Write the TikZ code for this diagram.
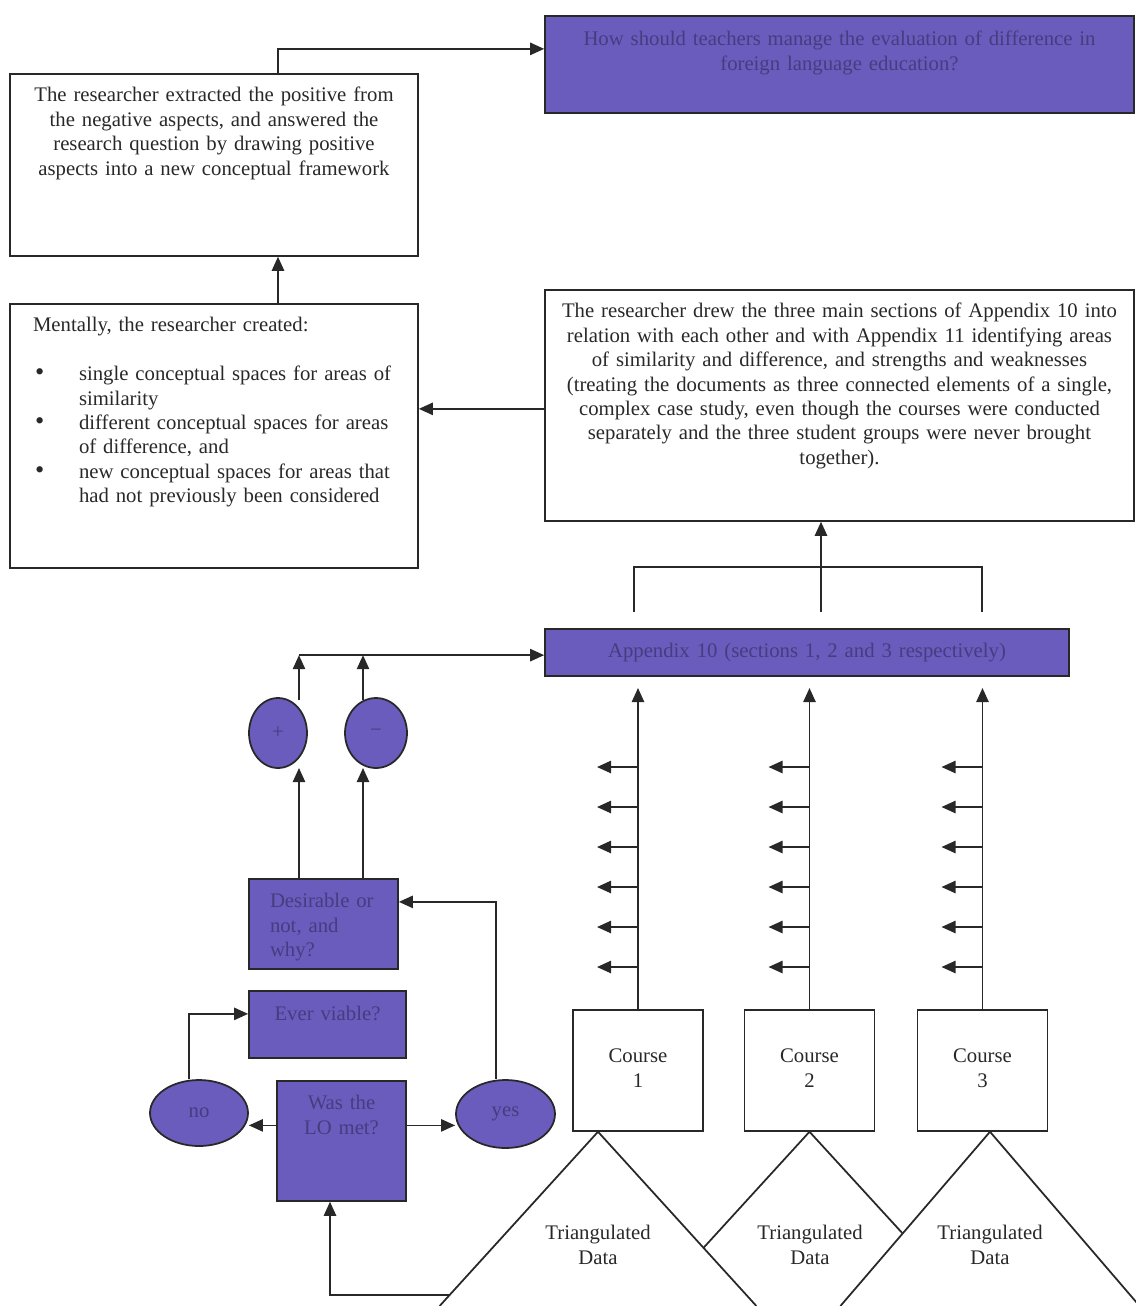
\documentclass[tikz,border=0pt]{standalone}
\usepackage{fontspec}
\setmainfont{Liberation Serif}
\usetikzlibrary{arrows.meta,shapes.geometric}
\definecolor{boxpurple}{RGB}{106,92,188}
\definecolor{inkpurple}{RGB}{70,60,128}
\definecolor{linegray}{RGB}{40,40,40}
\newcommand{\bul}{\makebox[0.92cm][l]{\hspace*{0.04cm}{\fontsize{15}{13.9}\selectfont\textbullet}}}
\begin{document}
\begin{tikzpicture}[x=0.02cm, y=-0.02cm, line width=1pt, color=linegray,
	arr/.style={-{Triangle[length=8pt,width=7pt]}},
	box/.style={draw, rectangle, anchor=north, inner sep=0pt, align=center,
		font=\fontsize{11.8}{13.9}\selectfont},
	pbox/.style={box, fill=boxpurple, text=inkpurple},
	oval/.style={draw, ellipse, fill=boxpurple, text=inkpurple, inner sep=0pt,
		font=\fontsize{11.8}{13.9}\selectfont},
	tri/.style={align=center, font=\fontsize{11.8}{13.9}\selectfont}]
	\useasboundingbox (0,0) rectangle (1136,1306);
	% upper part
	\node[pbox, text width=11.78cm, text height=0.6cm, text depth=1.34cm] (q) at (839.5,15)
		{How should teachers manage the evaluation of difference in\\ foreign language education?};
	\node[box, text width=8.16cm, text height=0.56cm, text depth=3.08cm] (ext) at (214,73)
		{The researcher extracted the positive from\\ the negative aspects, and answered the\\
		research question by drawing positive\\ aspects into a new conceptual framework};
	\node[box, align=left, inner xsep=0.46cm, text width=7.24cm, text height=0.56cm, text depth=4.72cm] (ment) at (214,303)
		{\begin{tabular}[t]{@{}l@{}}
		Mentally, the researcher created:\\[13.9pt]
		\bul single conceptual spaces for areas of\\
		\hspace*{0.92cm}similarity\\
		\bul different conceptual spaces for areas\\
		\hspace*{0.92cm}of difference, and\\
		\bul new conceptual spaces for areas that\\
		\hspace*{0.92cm}had not previously been considered
		\end{tabular}};
	\node[box, text width=11.78cm, text height=0.56cm, text depth=4.06cm] (rel) at (839.5,289)
		{The researcher drew the three main sections of Appendix 10 into\\
		relation with each other and with Appendix 11 identifying areas\\
		of similarity and difference, and strengths and weaknesses\\
		(treating the documents as three connected elements of a single,\\
		complex case study, even though the courses were conducted\\
		separately and the three student groups were never brought\\ together).};
	\node[pbox, text width=10.48cm, text height=0.58cm, text depth=0.36cm] (app) at (807,628)
		{Appendix 10 (sections 1, 2 and 3 respectively)};
	% left part
	\node[oval, minimum width=1.16cm, minimum height=1.4cm] (plus) at (278,733) {+};
	\node[oval, minimum width=1.24cm, minimum height=1.4cm] (minus) at (376,733) {−};
	\node[pbox, align=left, inner xsep=0.42cm, text width=2.14cm, text height=0.58cm, text depth=1.22cm] (des) at (323.5,878)
		{Desirable or\\ not, and\\ why?};
	\node[pbox, text width=3.14cm, text height=0.6cm, text depth=0.74cm] (ever) at (327.5,990) {Ever viable?};
	\node[pbox, text width=2.58cm, text height=0.58cm, text depth=1.82cm] (lo) at (341.5,1080) {Was the\\ LO met?};
	\node[oval, minimum width=1.96cm, minimum height=1.32cm] (no) at (199,1113) {no};
	\node[oval, minimum width=1.98cm, minimum height=1.36cm] (yes) at (505.5,1114) {yes};
	% courses and data
	\foreach \i/\x in {1/638,2/809.5,3/982.5}
		\node[box, text width=2.6cm, text height=1.06cm, text depth=1.36cm] (c\i) at (\x,1009) {Course\\ \i};
	\node[tri] (t1) at (598,1245) {Triangulated\\ Data};
	\node[tri] (t2) at (810,1245) {Triangulated\\ Data};
	\node[tri] (t3) at (990,1245) {Triangulated\\ Data};
	\draw (439.6,1306) -- ([xshift=-0.8cm]c1.south) -- (756.4,1306);
	\draw (703.8,1247.5) -- (c2.south) -- (902.3,1233.1);
	\draw (840.4,1306) -- ([xshift=0.15cm]c3.south) -- (1139.6,1306);
	% connectors
	\draw[arr] ([xshift=1.28cm]ext.north) |- ([yshift=0.31cm]q.west);
	\draw[arr] ([xshift=1.28cm]ment.north) -- ([xshift=1.28cm]ext.south);
	\draw[arr] ([yshift=-0.07cm]rel.west) coordinate (r1) -- (r1 -| ment.east);
	\coordinate (s1) at (634,612);
	\coordinate (s2) at (821,612);
	\coordinate (s3) at (982,612);
	\draw (s1) -- ++(0,-45) -| (s3);
	\draw[arr] (s2) -- (s2 |- rel.south);
	\foreach \i in {1,2,3}{
		\draw[arr] (c\i.north) -- (c\i.north |- 0,688);
		\foreach \y in {767,807,...,967}
			\draw[arr] (c\i.north |- 0,\y) -- ++(-41,0);
	}
	\draw[arr] ([xshift=0.42cm,yshift=-0.06cm]plus.north) -- ++(0,-45) coordinate (h1);
	\draw[arr] ([xshift=-0.26cm,yshift=-0.06cm]minus.north) -- ++(0,-45) coordinate (h2);
	\draw[arr] (h1) -- (h1 -| app.west);
	\draw[arr] (des.north -| h1) -- ++(0,-110);
	\draw[arr] (des.north -| h2) -- ++(0,-110);
	\draw[arr] ([xshift=-0.19cm]yes.north) |- ([yshift=0.44cm]des.east);
	\draw[arr] ([xshift=-0.2cm]no.north) |- ([yshift=0.21cm]ever.west);
	\draw[arr] ([yshift=0.31cm]lo.west) coordinate (l1) -- (l1 -| no.east);
	\draw[arr] ([yshift=0.31cm]lo.east) coordinate (l2) -- (l2 -| yes.west);
	\coordinate (e) at (449.5,1295);
	\draw[arr] (e) -| ([xshift=-0.23cm]lo.south);
\end{tikzpicture}
\end{document}
